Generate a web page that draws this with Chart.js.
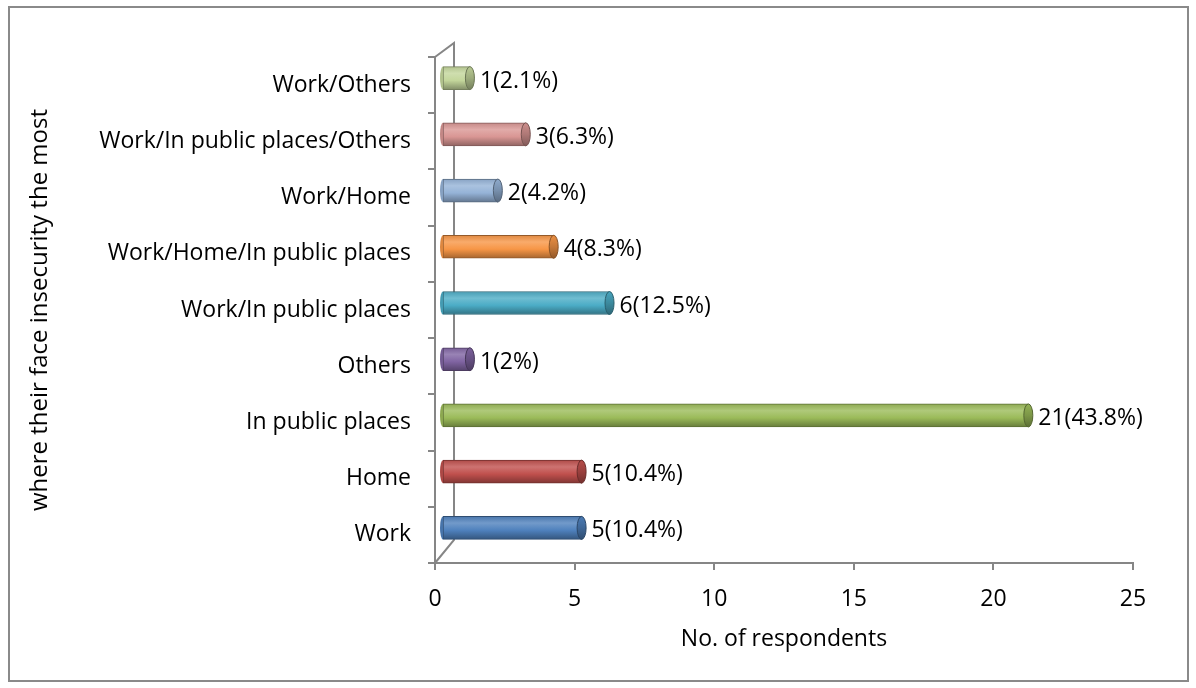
<!DOCTYPE html>
<html>
<head>
<meta charset="utf-8">
<script src="https://cdn.jsdelivr.net/npm/chart.js@4/dist/chart.umd.min.js"></script>
<style>
  html, body { margin: 0; padding: 0; background: #fff; }
  #wrap { width: 1196px; height: 688px; position: relative; }
</style>
</head>
<body>
<div id="wrap"><canvas id="chart" width="1196" height="688"></canvas></div>
<script>
// Data, listed from the bottom of the chart upward
const categories = ['Work', 'Home', 'In public places', 'Others', 'Work/In public places',
    'Work/Home/In public places', 'Work/Home', 'Work/In public places/Others', 'Work/Others'];
const respondents = [5, 5, 21, 1, 6, 4, 2, 3, 1];
const percentLabels = ['10.4%', '10.4%', '43.8%', '2%', '12.5%', '8.3%', '4.2%', '6.3%', '2.1%'];
const barColors = ['#4F81BD', '#C0504D', '#9BBB59', '#8064A2', '#4BACC6',
    '#F79646', '#95B3D7', '#D99694', '#C3D69B'];
const xTickValues = [0, 5, 10, 15, 20, 25];

const FONT = '"Open Sans", "Noto Sans", sans-serif';
const FSIZE = 23;
const AXIS_GRAY = '#868686';
const BAR_DX = 7, BAR_DY = -7;     // bars sit in the middle of the 3D depth
const WALL_DX = 19, WALL_DY = -17;  // back wall offset

function shade(hex, amt) {
    const n = parseInt(hex.slice(1), 16);
    let r = n >> 16, g = (n >> 8) & 255, b = n & 255;
    const t = amt < 0 ? 0 : 255, p = Math.abs(amt);
    r = Math.round(r + (t - r) * p); g = Math.round(g + (t - g) * p); b = Math.round(b + (t - b) * p);
    return `rgb(${r},${g},${b})`;
}

function barGradient(context) {
    const chart = context.chart;
    const c = barColors[context.dataIndex];
    if (!chart.chartArea || !chart.scales.y) return c;
    const cy = chart.scales.y.getPixelForValue(context.dataIndex);
    const g = chart.ctx.createLinearGradient(0, cy - 12, 0, cy + 12);
    g.addColorStop(0, shade(c, -0.1));
    g.addColorStop(0.3, shade(c, 0.2));
    g.addColorStop(0.6, c);
    g.addColorStop(1, shade(c, -0.35));
    return g;
}

const frame = {
    id: 'frame',
    beforeDraw(chart) {
        const ctx = chart.ctx;
        ctx.save();
        ctx.fillStyle = '#fff';
        ctx.fillRect(0, 0, chart.width, chart.height);
        ctx.strokeStyle = '#8a8a8a';
        ctx.lineWidth = 2;
        ctx.strokeRect(9, 7, 1179, 674);
        ctx.restore();
    },
    beforeDatasetsDraw(chart) {
        const ctx = chart.ctx;
        const a = chart.chartArea;
        // back wall of the 3D plot
        ctx.save();
        ctx.strokeStyle = AXIS_GRAY;
        ctx.lineWidth = 2;
        ctx.beginPath();
        ctx.moveTo(a.left, a.top);
        ctx.lineTo(a.left + WALL_DX, a.top - 14);
        ctx.lineTo(a.left + WALL_DX, a.bottom + WALL_DY - 6);
        ctx.lineTo(a.left, a.bottom);
        ctx.stroke();
        ctx.restore();
        ctx.save();
        ctx.translate(BAR_DX, BAR_DY);
    },
    afterDatasetsDraw(chart) {
        const ctx = chart.ctx;
        const meta = chart.getDatasetMeta(0);
        meta.data.forEach((bar, i) => {
            const h = bar.height / 2;
            const c = barColors[i];
            // rounded left end
            ctx.beginPath();
            ctx.ellipse(bar.base, bar.y, 3, h, 0, Math.PI / 2, Math.PI * 1.5);
            ctx.fillStyle = shade(c, -0.1);
            ctx.fill();
            // cylinder cap
            ctx.beginPath();
            ctx.ellipse(bar.x, bar.y, 4.5, h, 0, 0, Math.PI * 2);
            const g = ctx.createLinearGradient(0, bar.y - h, 0, bar.y + h);
            g.addColorStop(0, shade(c, -0.05));
            g.addColorStop(0.5, shade(c, -0.2));
            g.addColorStop(1, shade(c, -0.4));
            ctx.fillStyle = g;
            ctx.fill();
            ctx.strokeStyle = shade(c, -0.45);
            ctx.lineWidth = 1;
            ctx.stroke();
        });
        ctx.restore();
        // value labels
        ctx.save();
        ctx.fillStyle = '#000';
        ctx.font = `${FSIZE}px ${FONT}`;
        ctx.textBaseline = 'middle';
        ctx.textAlign = 'left';
        meta.data.forEach((bar, i) => {
            ctx.fillText(`${respondents[i]}(${percentLabels[i]})`, bar.x + BAR_DX + 10, bar.y + BAR_DY + 3);
        });
        ctx.restore();
    }
};

new Chart(document.getElementById('chart'), {
    type: 'bar',
    data: {
        labels: categories,
        datasets: [{
            data: respondents,
            backgroundColor: barGradient,
            borderColor: barColors.map(c => shade(c, -0.4)),
            borderWidth: 1,
            borderSkipped: false,
            barThickness: 23
        }]
    },
    options: {
        indexAxis: 'y',
        responsive: false,
        animation: false,
        layout: { padding: { top: 57, right: 63, bottom: 0, left: 0 } },
        plugins: {
            legend: { display: false },
            tooltip: { enabled: false }
        },
        scales: {
            x: {
                min: 0,
                max: 25,
                afterFit: s => { s.height = 125; },
                afterBuildTicks: s => { s.ticks = xTickValues.map(v => ({ value: v })); },
                grid: { drawOnChartArea: false, drawTicks: true, tickLength: 7, color: AXIS_GRAY, lineWidth: 2 },
                border: { display: true, color: AXIS_GRAY, width: 2 },
                ticks: { color: '#000', font: { family: FONT, size: FSIZE }, padding: 16 },
                title: {
                    display: true, text: 'No. of respondents', color: '#000',
                    font: { family: FONT, size: FSIZE }, padding: { top: 0, bottom: 35 }
                }
            },
            y: {
                reverse: true,
                afterFit: s => { s.width = 435; },
                grid: { drawOnChartArea: false, drawTicks: true, tickLength: 7, color: AXIS_GRAY, lineWidth: 2, offset: true },
                border: { display: true, color: AXIS_GRAY, width: 2 },
                ticks: { color: '#000', font: { family: FONT, size: FSIZE }, padding: 17 },
                title: {
                    display: true, text: 'where their face insecurity the most', color: '#000',
                    font: { family: FONT, size: 24 }, padding: { top: 26, bottom: 0 }
                }
            }
        }
    },
    plugins: [frame]
});
</script>
</body>
</html>
